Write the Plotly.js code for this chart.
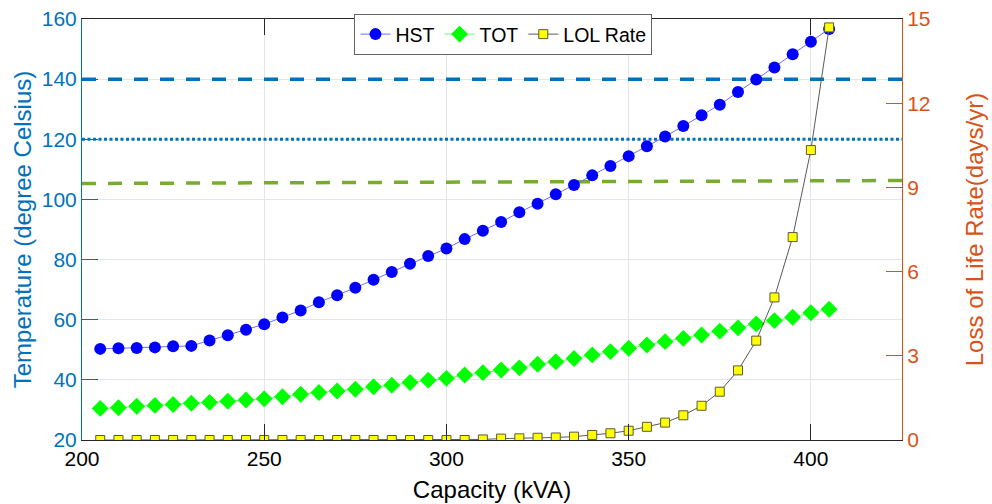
<!DOCTYPE html>
<html>
<head>
<meta charset="utf-8">
<script src="https://cdn.plot.ly/plotly-3.0.1.min.js"></script>
<style>html,body{margin:0;padding:0;background:#fff;}#chart{width:992px;height:504px;}</style>
</head>
<body>
<div id="chart"></div>
<script>
// Capacity (kVA)
const capacity = [205,210,215,220,225,230,235,240,245,250,255,260,265,270,275,280,285,290,295,300,
                  305,310,315,320,325,330,335,340,345,350,355,360,365,370,375,380,385,390,395,400,405];
// Hot-spot temperature (°C)
const hst = [50.3,50.5,50.6,50.8,51.2,51.3,53.1,54.8,56.7,58.5,60.7,63.1,65.8,68.1,70.6,73.3,75.9,78.6,81.2,83.7,
             86.8,89.6,92.5,95.7,98.6,101.7,104.8,108.0,111.1,114.4,117.7,120.9,124.4,128.0,131.5,135.7,139.9,143.9,148.3,152.4,156.7];
// Top-oil temperature (°C)
const tot = [30.5,30.7,31.2,31.5,31.8,32.2,32.5,32.9,33.3,33.7,34.4,35.2,35.8,36.3,36.9,37.7,38.2,39.1,39.9,40.5,
             41.6,42.4,43.3,44.0,45.2,46.0,47.1,48.3,49.4,50.5,51.6,52.7,53.8,54.9,56.2,57.3,58.6,59.7,60.8,62.3,63.5];
// Loss of life rate (days/yr)
const lol = [0,0,0,0,0,0,0,0,0,0,0,0,0,0,0,0,0,0,0,0,
             0,0.02,0.05,0.06,0.08,0.09,0.12,0.18,0.24,0.33,0.47,0.62,0.88,1.22,1.72,2.48,3.54,5.08,7.23,10.33,14.70];
// Limits
const limitX = [200, 425];
const hstLimitHigh = [140, 140];
const hstLimitLow = [120, 120];
const totLimit = [105.3, 106.3];

const blue = 'rgb(0,114,189)';
const orange = 'rgb(217,83,25)';
const green = 'rgb(119,172,48)';
const dark = 'rgb(38,38,38)';
const F = 'Liberation Sans, Arial, sans-serif';

const traces = [
  {x: limitX, y: hstLimitHigh, mode: 'lines', showlegend: false, hoverinfo: 'skip',
   line: {color: blue, width: 3.5, dash: '14px,12px'}},
  {x: limitX, y: hstLimitLow, mode: 'lines', showlegend: false, hoverinfo: 'skip',
   line: {color: blue, width: 3, dash: '3px,2.5px'}},
  {x: limitX, y: totLimit, mode: 'lines', showlegend: false, hoverinfo: 'skip',
   line: {color: green, width: 3.5, dash: '14px,12px'}},
  {x: capacity, y: hst, name: 'HST', mode: 'lines+markers',
   line: {color: 'rgb(110,110,255)', width: 1},
   marker: {symbol: 'circle', size: 12, color: 'rgb(0,0,255)', line: {width: 0}}},
  {x: capacity, y: tot, name: 'TOT', mode: 'lines+markers',
   line: {color: 'rgb(110,255,110)', width: 1},
   marker: {symbol: 'diamond', size: 13, color: 'rgb(0,255,0)', line: {width: 0}}},
  {x: capacity, y: lol, name: 'LOL Rate', mode: 'lines+markers', yaxis: 'y2',
   line: {color: 'rgb(90,90,90)', width: 1},
   marker: {symbol: 'square', size: 9, color: 'rgb(255,255,0)', line: {color: 'rgb(90,90,60)', width: 1}}}
];

const layout = {
  width: 992, height: 504,
  margin: {l: 82, r: 90, t: 19, b: 64},
  paper_bgcolor: '#fff', plot_bgcolor: '#fff',
  font: {family: F, size: 21, color: dark},
  showlegend: true,
  legend: {orientation: 'h', x: 0.514, xanchor: 'center', y: 1.012, yanchor: 'top',
           bgcolor: '#fff', bordercolor: 'rgb(100,100,100)', borderwidth: 1,
           font: {family: F, size: 19.5, color: '#000'}, itemwidth: 30, tracegroupgap: 0},
  xaxis: {range: [200, 425], tickvals: [200,250,300,350,400], ticks: 'inside', ticklen: 16,
          tickcolor: dark, showline: true, linecolor: dark, linewidth: 1, mirror: 'ticks',
          showgrid: true, gridcolor: 'rgb(226,230,235)', gridwidth: 1, zeroline: false,
          tickfont: {family: F, size: 21, color: '#000'},
          title: {text: 'Capacity (kVA)', font: {family: F, size: 24, color: '#000'}, standoff: 11}},
  yaxis: {range: [20, 160], tickvals: [20,40,60,80,100,120,140,160], ticks: 'inside', ticklen: 16,
          tickcolor: blue, showline: true, linecolor: blue, linewidth: 1,
          showgrid: true, gridcolor: 'rgb(226,230,235)', gridwidth: 1, zeroline: false,
          tickfont: {family: F, size: 21, color: blue},
          title: {text: 'Temperature (degree Celsius)', font: {family: F, size: 24, color: blue}, standoff: 3}},
  yaxis2: {range: [0, 15], tickvals: [0,3,6,9,12,15], ticks: 'inside', ticklen: 16,
           overlaying: 'y', side: 'right', tickcolor: orange, showline: true, linecolor: orange, linewidth: 1,
           showgrid: false, zeroline: false,
           tickfont: {family: F, size: 21, color: orange},
           title: {text: 'Loss of Life Rate(days/yr)', font: {family: F, size: 24, color: orange}, standoff: 36}}
};

Plotly.newPlot('chart', traces, layout, {displayModeBar: false, staticPlot: true});
</script>
</body>
</html>
